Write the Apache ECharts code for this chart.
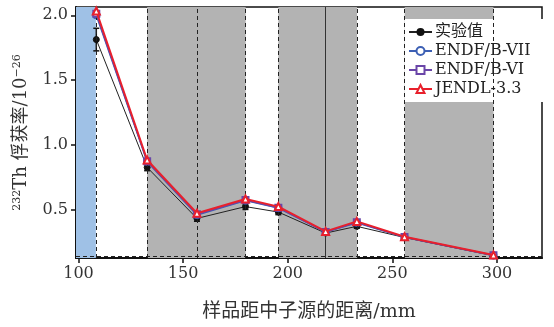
<!DOCTYPE html>
<html><head><meta charset="utf-8">
<script src="https://cdn.jsdelivr.net/npm/echarts@6/dist/echarts.min.js"></script>
<style>html,body{margin:0;padding:0;background:#fff}#c{width:554px;height:327px}</style>
</head><body><div id="c"></div>
<script>
// ---- data ----
const xPos   = [108.5, 132.8, 156.6, 179.8, 195.5, 218.1, 233.0, 255.8, 298.3];
const expVals = [1.813, 0.828, 0.435, 0.526, 0.484, 0.322, 0.374, 0.288, 0.148];
const expErr  = [0.087, 0.025, 0.022, 0.022, 0.020, 0.012, 0.015, 0.010, 0.008];
const endf7  = [2.000, 0.872, 0.462, 0.572, 0.515, 0.330, 0.402, 0.290, 0.150];
const endf6  = [2.012, 0.876, 0.467, 0.576, 0.518, 0.331, 0.405, 0.291, 0.151];
const jendl  = [2.033, 0.885, 0.475, 0.585, 0.526, 0.335, 0.412, 0.294, 0.153];
const seriesNames = ['实验值', 'ENDF/B-VII', 'ENDF/B-VI', 'JENDL-3.3'];
const xTicks = [100, 150, 200, 250, 300];
const yTicks = [0.5, 1.0, 1.5, 2.0];
const blueBands = [[98.8, 108.3]];
const grayBands = [[132.8, 179.9], [195.5, 233.1], [255.9, 298.3]];
const dashedX = [108.3, 132.8, 156.6, 179.9, 195.5, 233.1, 255.9, 298.3];
const solidX = [218.1];
const baseY = 0.14;

const pair = v => v.map((y, i) => [xPos[i], y]);
const FONT = 'DejaVu Serif, Noto Sans CJK SC, serif';

const chart = echarts.init(document.getElementById('c'), null, {renderer: 'canvas'});
const markAreaData = blueBands.map(b => [{xAxis: b[0], itemStyle: {color: '#9fc1e6'}}, {xAxis: b[1]}])
  .concat(grayBands.map(b => [{xAxis: b[0], itemStyle: {color: '#b3b3b3'}}, {xAxis: b[1]}]));
const markLineData = dashedX.map(x => ({xAxis: x}))
  .concat(solidX.map(x => ({xAxis: x, lineStyle: {type: 'solid', color: '#333'}})))
  .concat([{yAxis: baseY}]);

chart.setOption({
  animation: false,
  grid: {left: 76, right: 12, top: 7, bottom: 69, show: true, borderColor: '#111', borderWidth: 1.5, backgroundColor: '#fff'},
  xAxis: {
    type: 'value', min: 98.8, max: 321.5,
    splitLine: {show: false},
    axisLine: {show: true, onZero: false, lineStyle: {color: '#111', width: 2}},
    axisTick: {show: true, inside: false, length: 5, customValues: xTicks, lineStyle: {color: '#111', width: 1.5}},
    axisLabel: {customValues: xTicks, margin: 8, color: '#333', fontFamily: FONT, fontSize: 16},
    name: '样品距中子源的距离/mm', nameLocation: 'middle', nameGap: 45,
    nameTextStyle: {color: '#333', fontFamily: FONT, fontSize: 19}
  },
  yAxis: {
    type: 'value', min: 0.130, max: 2.064,
    splitLine: {show: false},
    axisLine: {show: true, onZero: false, lineStyle: {color: '#111', width: 2}},
    axisTick: {show: true, inside: false, length: 5, customValues: yTicks, lineStyle: {color: '#111', width: 1.5}},
    axisLabel: {customValues: yTicks, margin: 8, color: '#333', fontFamily: FONT, fontSize: 16,
      formatter: v => v.toFixed(1)},
    name: '{sup|232}Th 俘获率/10{sup|−26}', nameLocation: 'middle', nameGap: 42, nameRotate: 90,
    nameTextStyle: {color: '#333', fontFamily: FONT, fontSize: 18, lineHeight: 20,
      rich: {sup: {fontSize: 11, fontFamily: FONT, color: '#333', verticalAlign: 'top', lineHeight: 20}}}
  },
  legend: {
    data: [
      {name: seriesNames[0]}, {name: seriesNames[1]}, {name: seriesNames[2]}, {name: seriesNames[3]}
    ],
    orient: 'vertical', left: 405, top: 19, backgroundColor: '#fff',
    padding: [5, 20, 5, 3], itemGap: 3, itemWidth: 23, itemHeight: 10,
    textStyle: {fontFamily: FONT, fontSize: 16, color: '#222', lineHeight: 16, padding: [0, 0, 0, -2]}
  },
  series: [
    {
      type: 'line', name: '_bands', data: [], silent: true, z: 1,
      markArea: {silent: true, data: markAreaData},
      markLine: {silent: true, symbol: 'none', label: {show: false},
        lineStyle: {type: [4, 3], color: '#222', width: 1}, data: markLineData}
    },
    {
      type: 'custom', name: '_err', z: 2,
      data: xPos.map((x, i) => [x, expVals[i], expErr[i]]),
      encode: {x: 0, y: 1},
      renderItem: function (params, api) {
        const x = api.value(0), v = api.value(1), e = api.value(2);
        const top = api.coord([x, v + e]), bot = api.coord([x, v - e]);
        const s = {stroke: '#111', lineWidth: 1.5};
        return {type: 'group', children: [
          {type: 'line', shape: {x1: top[0], y1: top[1], x2: bot[0], y2: bot[1]}, style: s},
          {type: 'line', shape: {x1: top[0] - 3, y1: top[1], x2: top[0] + 3, y2: top[1]}, style: s},
          {type: 'line', shape: {x1: bot[0] - 3, y1: bot[1], x2: bot[0] + 3, y2: bot[1]}, style: s}
        ]};
      }
    },
    {
      type: 'line', name: seriesNames[0], data: pair(expVals), z: 3,
      symbol: 'circle', symbolSize: 6,
      lineStyle: {color: '#222', width: 1},
      itemStyle: {color: '#111', borderColor: '#111'}
    },
    {
      type: 'line', name: seriesNames[1], data: pair(endf7), z: 4,
      symbol: 'emptyCircle', symbolSize: 6,
      lineStyle: {color: '#3c5fb4', width: 1.5},
      itemStyle: {color: '#3c5fb4', borderColor: '#3c5fb4', borderWidth: 1.2}
    },
    {
      type: 'line', name: seriesNames[2], data: pair(endf6), z: 5,
      symbol: 'emptyRect', symbolSize: 6,
      lineStyle: {color: '#6a45a8', width: 1.5},
      itemStyle: {color: '#6a45a8', borderColor: '#6a45a8', borderWidth: 1.2}
    },
    {
      type: 'line', name: seriesNames[3], data: pair(jendl), z: 6,
      symbol: 'emptyTriangle', symbolSize: 7,
      lineStyle: {color: '#e8202c', width: 2},
      itemStyle: {color: '#e8202c', borderColor: '#e8202c', borderWidth: 2}
    }
  ]
});
</script></body></html>
